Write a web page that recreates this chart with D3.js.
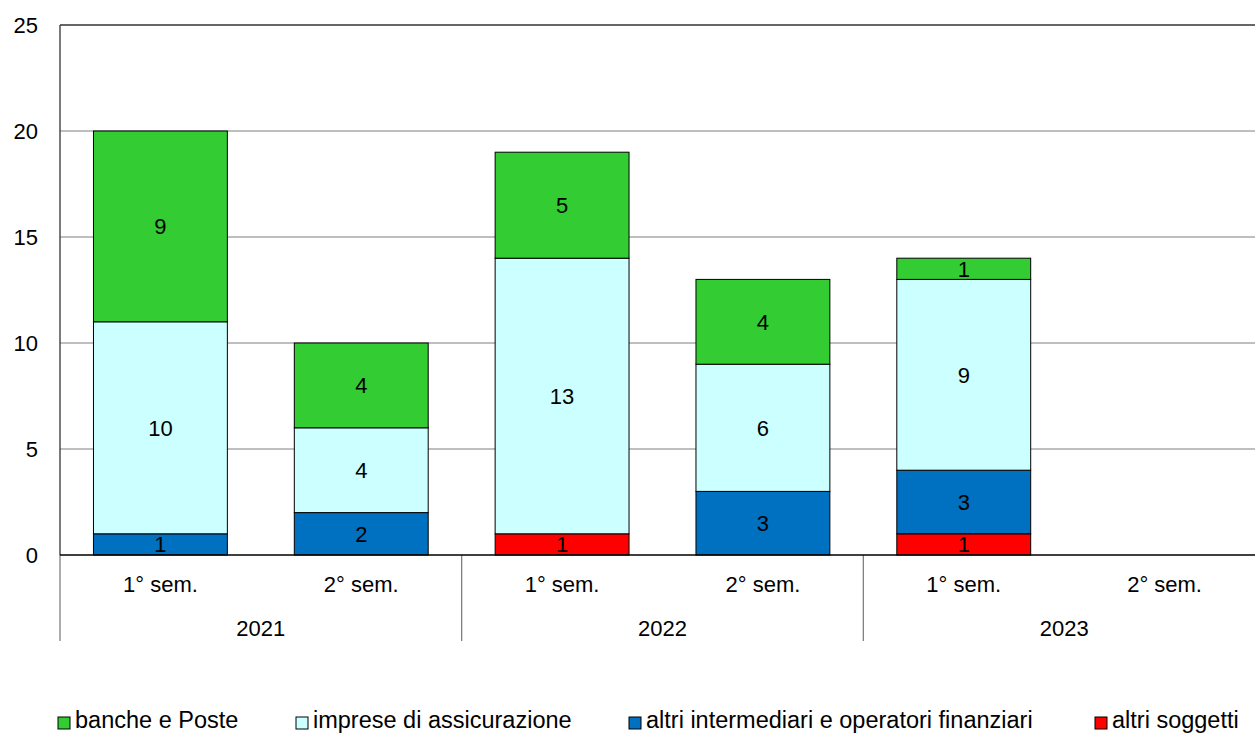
<!DOCTYPE html>
<html>
<head>
<meta charset="utf-8">
<script src="https://cdn.jsdelivr.net/npm/d3@7"></script>
<style>
  html, body { margin: 0; padding: 0; background: #fff; }
  svg { display: block; font-family: "Liberation Sans", Arial, sans-serif; }
</style>
</head>
<body>
<svg id="chart" width="1255" height="733"></svg>
<script>
// Semesters (bottom level) and their years (top level)
const semesters = ["1° sem.", "2° sem.", "1° sem.", "2° sem.", "1° sem.", "2° sem."];
const years = ["2021", "2022", "2023"];

// Series, listed bottom-to-top of each stack
const seriesNames = [
  "altri soggetti",
  "altri intermediari e operatori finanziari",
  "imprese di assicurazione",
  "banche e Poste"
];
const altriSoggetti      = [0, 0, 1, 0, 1, 0];
const altriIntermediari  = [1, 2, 0, 3, 3, 0];
const impreseAssicuraz   = [10, 4, 13, 6, 9, 0];
const bancheEPoste       = [9, 4, 5, 4, 1, 0];

const yTicks = [0, 5, 10, 15, 20, 25];

// Legend order as shown below the chart
const legendOrder = [
  "banche e Poste",
  "imprese di assicurazione",
  "altri intermediari e operatori finanziari",
  "altri soggetti"
];

const colors = {
  "banche e Poste": "#33CC33",
  "imprese di assicurazione": "#CCFFFF",
  "altri intermediari e operatori finanziari": "#0070C0",
  "altri soggetti": "#FF0000"
};

const seriesValues = [altriSoggetti, altriIntermediari, impreseAssicuraz, bancheEPoste];

const svg = d3.select("#chart");
const plotLeft = 60, plotTop = 25, plotBottom = 555, plotRight = 1265;

const x = d3.scaleBand()
  .domain(d3.range(semesters.length))
  .range([plotLeft, plotRight])
  .paddingInner(1 / 3)
  .paddingOuter(1 / 6);
const step = x.step();

const y = d3.scaleLinear().domain([0, 25]).range([plotBottom, plotTop]);

// Horizontal gridlines
svg.append("g").selectAll("line")
  .data(yTicks.filter(t => t > 0 && t < 25))
  .join("line")
  .attr("x1", plotLeft).attr("x2", 1255)
  .attr("y1", d => y(d)).attr("y2", d => y(d))
  .attr("stroke", "#7f7f7f").attr("stroke-width", 1);

// Top border of the plot area
svg.append("line")
  .attr("x1", plotLeft).attr("x2", 1255)
  .attr("y1", y(25)).attr("y2", y(25))
  .attr("stroke", "#333").attr("stroke-width", 1.3);

// Y axis labels
const yAxis = d3.axisLeft(y).tickValues(yTicks).tickSize(0).tickPadding(22);
const gy = svg.append("g").attr("transform", `translate(${plotLeft},0)`).call(yAxis);
gy.select(".domain").remove();
gy.selectAll("text")
  .attr("font-size", 22)
  .attr("fill", "#000")
  .attr("font-family", "Liberation Sans, Arial, sans-serif");

// Stacked data
const stackData = semesters.map((s, i) => {
  const row = { i };
  seriesNames.forEach((n, k) => row[n] = seriesValues[k][i]);
  return row;
});
const stacked = d3.stack().keys(seriesNames)(stackData);

const barsG = svg.append("g");
stacked.forEach(layer => {
  const name = layer.key;
  layer.forEach((d, i) => {
    const v = d[1] - d[0];
    if (v <= 0) return;
    barsG.append("rect")
      .attr("x", x(i))
      .attr("width", x.bandwidth())
      .attr("y", y(d[1]))
      .attr("height", y(d[0]) - y(d[1]))
      .attr("fill", colors[name])
      .attr("stroke", "#000")
      .attr("stroke-width", 1);
    barsG.append("text")
      .attr("x", x(i) + x.bandwidth() / 2)
      .attr("y", (y(d[0]) + y(d[1])) / 2 + 8)
      .attr("text-anchor", "middle")
      .attr("font-size", 22)
      .attr("fill", "#000")
      .text(v);
  });
});

// Left axis line
svg.append("line")
  .attr("x1", plotLeft).attr("x2", plotLeft)
  .attr("y1", plotTop).attr("y2", plotBottom)
  .attr("stroke", "#333").attr("stroke-width", 1.3);

// Year separators (including the left edge) and year labels
years.forEach((yr, k) => {
  const xs = plotLeft + k * 2 * step;
  svg.append("line")
    .attr("x1", xs).attr("x2", xs)
    .attr("y1", plotBottom).attr("y2", 641)
    .attr("stroke", "#808080").attr("stroke-width", 1.3);
  svg.append("text")
    .attr("x", xs + step)
    .attr("y", 636)
    .attr("text-anchor", "middle")
    .attr("font-size", 22)
    .attr("fill", "#000")
    .text(yr);
});

// Zero baseline
svg.append("line")
  .attr("x1", plotLeft).attr("x2", 1255)
  .attr("y1", y(0)).attr("y2", y(0))
  .attr("stroke", "#000").attr("stroke-width", 1.5);

// Semester labels
svg.append("g").selectAll("text")
  .data(semesters)
  .join("text")
  .attr("x", (d, i) => x(i) + x.bandwidth() / 2)
  .attr("y", 592)
  .attr("text-anchor", "middle")
  .attr("font-size", 22)
  .attr("fill", "#000")
  .text(d => d);

// Legend
const legendX = [58, 296, 629, 1095];
const lg = svg.append("g");
legendOrder.forEach((name, k) => {
  lg.append("rect")
    .attr("x", legendX[k]).attr("y", 717)
    .attr("width", 12).attr("height", 12)
    .attr("fill", colors[name])
    .attr("stroke", "#000").attr("stroke-width", 1);
  lg.append("text")
    .attr("x", legendX[k] + 17)
    .attr("y", 728)
    .attr("font-size", 23.5)
    .attr("fill", "#000")
    .text(name);
});
</script>
</body>
</html>
